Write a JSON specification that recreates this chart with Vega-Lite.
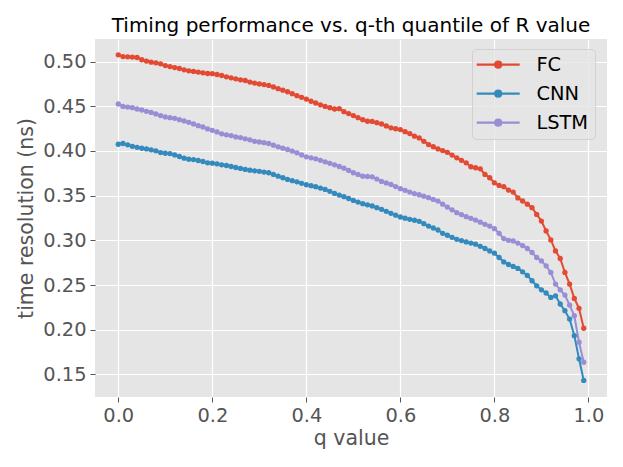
{
  "$schema": "https://vega.github.io/schema/vega-lite/v6.json",
  "width": 512,
  "height": 358,
  "autosize": {"type": "none"},
  "padding": {"left": 95, "top": 39, "right": 16, "bottom": 70},
  "background": "white",
  "title": {"text": "Timing performance vs. q-th quantile of R value", "font": "DejaVu Sans", "fontSize": 20, "fontWeight": "normal", "color": "black", "anchor": "middle", "baseline": "bottom", "offset": 4, "dy": 21},
  "config": {
    "view": {"fill": "#E5E5E5", "stroke": null},
    "axis": {"domain": false, "grid": true, "gridColor": "white", "gridWidth": 1.2, "tickColor": "#555555", "tickSize": 5, "tickWidth": 1, "labelColor": "#555555", "labelFont": "DejaVu Sans", "labelFontSize": 19.4, "titleColor": "#555555", "titleFont": "DejaVu Sans", "titleFontSize": 20.5, "titleFontWeight": "normal"}
  },
  "data": {"values": [
    {"q":0.00,"FC":0.5075,"CNN":0.4075,"LSTM":0.4525},
    {"q":0.01,"FC":0.5056,"CNN":0.4083,"LSTM":0.4498},
    {"q":0.02,"FC":0.5053,"CNN":0.4068,"LSTM":0.4491},
    {"q":0.03,"FC":0.5050,"CNN":0.4052,"LSTM":0.4484},
    {"q":0.04,"FC":0.5045,"CNN":0.4041,"LSTM":0.4469},
    {"q":0.05,"FC":0.5020,"CNN":0.4030,"LSTM":0.4458},
    {"q":0.06,"FC":0.5005,"CNN":0.4023,"LSTM":0.4443},
    {"q":0.07,"FC":0.4993,"CNN":0.4012,"LSTM":0.4431},
    {"q":0.08,"FC":0.4985,"CNN":0.4001,"LSTM":0.4414},
    {"q":0.09,"FC":0.4974,"CNN":0.3982,"LSTM":0.4395},
    {"q":0.10,"FC":0.4955,"CNN":0.3974,"LSTM":0.4380},
    {"q":0.11,"FC":0.4944,"CNN":0.3971,"LSTM":0.4372},
    {"q":0.12,"FC":0.4933,"CNN":0.3956,"LSTM":0.4365},
    {"q":0.13,"FC":0.4922,"CNN":0.3938,"LSTM":0.4350},
    {"q":0.14,"FC":0.4907,"CNN":0.3919,"LSTM":0.4336},
    {"q":0.15,"FC":0.4896,"CNN":0.3907,"LSTM":0.4320},
    {"q":0.16,"FC":0.4889,"CNN":0.3904,"LSTM":0.4302},
    {"q":0.17,"FC":0.4882,"CNN":0.3893,"LSTM":0.4283},
    {"q":0.18,"FC":0.4874,"CNN":0.3882,"LSTM":0.4269},
    {"q":0.19,"FC":0.4866,"CNN":0.3867,"LSTM":0.4246},
    {"q":0.20,"FC":0.4864,"CNN":0.3863,"LSTM":0.4231},
    {"q":0.21,"FC":0.4855,"CNN":0.3856,"LSTM":0.4213},
    {"q":0.22,"FC":0.4844,"CNN":0.3845,"LSTM":0.4191},
    {"q":0.23,"FC":0.4829,"CNN":0.3837,"LSTM":0.4180},
    {"q":0.24,"FC":0.4818,"CNN":0.3826,"LSTM":0.4172},
    {"q":0.25,"FC":0.4807,"CNN":0.3815,"LSTM":0.4157},
    {"q":0.26,"FC":0.4796,"CNN":0.3804,"LSTM":0.4149},
    {"q":0.27,"FC":0.4788,"CNN":0.3793,"LSTM":0.4135},
    {"q":0.28,"FC":0.4770,"CNN":0.3785,"LSTM":0.4124},
    {"q":0.29,"FC":0.4759,"CNN":0.3778,"LSTM":0.4108},
    {"q":0.30,"FC":0.4750,"CNN":0.3772,"LSTM":0.4100},
    {"q":0.31,"FC":0.4742,"CNN":0.3764,"LSTM":0.4092},
    {"q":0.32,"FC":0.4733,"CNN":0.3756,"LSTM":0.4083},
    {"q":0.33,"FC":0.4716,"CNN":0.3737,"LSTM":0.4065},
    {"q":0.34,"FC":0.4696,"CNN":0.3718,"LSTM":0.4046},
    {"q":0.35,"FC":0.4680,"CNN":0.3700,"LSTM":0.4031},
    {"q":0.36,"FC":0.4662,"CNN":0.3681,"LSTM":0.4016},
    {"q":0.37,"FC":0.4640,"CNN":0.3668,"LSTM":0.3998},
    {"q":0.38,"FC":0.4618,"CNN":0.3655,"LSTM":0.3979},
    {"q":0.39,"FC":0.4600,"CNN":0.3638,"LSTM":0.3956},
    {"q":0.40,"FC":0.4580,"CNN":0.3622,"LSTM":0.3934},
    {"q":0.41,"FC":0.4556,"CNN":0.3611,"LSTM":0.3923},
    {"q":0.42,"FC":0.4536,"CNN":0.3600,"LSTM":0.3912},
    {"q":0.43,"FC":0.4516,"CNN":0.3585,"LSTM":0.3895},
    {"q":0.44,"FC":0.4498,"CNN":0.3570,"LSTM":0.3878},
    {"q":0.45,"FC":0.4484,"CNN":0.3548,"LSTM":0.3862},
    {"q":0.46,"FC":0.4469,"CNN":0.3525,"LSTM":0.3845},
    {"q":0.47,"FC":0.4473,"CNN":0.3507,"LSTM":0.3826},
    {"q":0.48,"FC":0.4439,"CNN":0.3488,"LSTM":0.3807},
    {"q":0.49,"FC":0.4418,"CNN":0.3468,"LSTM":0.3782},
    {"q":0.50,"FC":0.4395,"CNN":0.3447,"LSTM":0.3756},
    {"q":0.51,"FC":0.4372,"CNN":0.3428,"LSTM":0.3737},
    {"q":0.52,"FC":0.4350,"CNN":0.3410,"LSTM":0.3718},
    {"q":0.53,"FC":0.4332,"CNN":0.3397,"LSTM":0.3714},
    {"q":0.54,"FC":0.4330,"CNN":0.3384,"LSTM":0.3711},
    {"q":0.55,"FC":0.4316,"CNN":0.3366,"LSTM":0.3685},
    {"q":0.56,"FC":0.4302,"CNN":0.3347,"LSTM":0.3659},
    {"q":0.57,"FC":0.4280,"CNN":0.3325,"LSTM":0.3642},
    {"q":0.58,"FC":0.4258,"CNN":0.3302,"LSTM":0.3625},
    {"q":0.59,"FC":0.4248,"CNN":0.3282,"LSTM":0.3602},
    {"q":0.60,"FC":0.4239,"CNN":0.3261,"LSTM":0.3578},
    {"q":0.61,"FC":0.4216,"CNN":0.3248,"LSTM":0.3559},
    {"q":0.62,"FC":0.4194,"CNN":0.3235,"LSTM":0.3540},
    {"q":0.63,"FC":0.4165,"CNN":0.3225,"LSTM":0.3522},
    {"q":0.64,"FC":0.4146,"CNN":0.3213,"LSTM":0.3510},
    {"q":0.65,"FC":0.4108,"CNN":0.3187,"LSTM":0.3494},
    {"q":0.66,"FC":0.4071,"CNN":0.3160,"LSTM":0.3477},
    {"q":0.67,"FC":0.4047,"CNN":0.3138,"LSTM":0.3458},
    {"q":0.68,"FC":0.4023,"CNN":0.3116,"LSTM":0.3439},
    {"q":0.69,"FC":0.4004,"CNN":0.3079,"LSTM":0.3405},
    {"q":0.70,"FC":0.3985,"CNN":0.3057,"LSTM":0.3372},
    {"q":0.71,"FC":0.3954,"CNN":0.3034,"LSTM":0.3341},
    {"q":0.72,"FC":0.3923,"CNN":0.3012,"LSTM":0.3310},
    {"q":0.73,"FC":0.3895,"CNN":0.2997,"LSTM":0.3288},
    {"q":0.74,"FC":0.3867,"CNN":0.2982,"LSTM":0.3265},
    {"q":0.75,"FC":0.3823,"CNN":0.2970,"LSTM":0.3246},
    {"q":0.76,"FC":0.3812,"CNN":0.2957,"LSTM":0.3227},
    {"q":0.77,"FC":0.3800,"CNN":0.2933,"LSTM":0.3203},
    {"q":0.78,"FC":0.3737,"CNN":0.2909,"LSTM":0.3179},
    {"q":0.79,"FC":0.3700,"CNN":0.2882,"LSTM":0.3160},
    {"q":0.80,"FC":0.3644,"CNN":0.2856,"LSTM":0.3131},
    {"q":0.81,"FC":0.3614,"CNN":0.2808,"LSTM":0.3079},
    {"q":0.82,"FC":0.3600,"CNN":0.2759,"LSTM":0.3020},
    {"q":0.83,"FC":0.3562,"CNN":0.2730,"LSTM":0.3000},
    {"q":0.84,"FC":0.3540,"CNN":0.2708,"LSTM":0.2993},
    {"q":0.85,"FC":0.3475,"CNN":0.2686,"LSTM":0.2970},
    {"q":0.86,"FC":0.3440,"CNN":0.2648,"LSTM":0.2942},
    {"q":0.87,"FC":0.3405,"CNN":0.2608,"LSTM":0.2909},
    {"q":0.88,"FC":0.3365,"CNN":0.2548,"LSTM":0.2864},
    {"q":0.89,"FC":0.3290,"CNN":0.2492,"LSTM":0.2808},
    {"q":0.90,"FC":0.3216,"CNN":0.2447,"LSTM":0.2770},
    {"q":0.91,"FC":0.3105,"CNN":0.2411,"LSTM":0.2715},
    {"q":0.92,"FC":0.3005,"CNN":0.2362,"LSTM":0.2641},
    {"q":0.93,"FC":0.2882,"CNN":0.2380,"LSTM":0.2511},
    {"q":0.94,"FC":0.2797,"CNN":0.2288,"LSTM":0.2447},
    {"q":0.95,"FC":0.2641,"CNN":0.2213,"LSTM":0.2388},
    {"q":0.96,"FC":0.2511,"CNN":0.2120,"LSTM":0.2276},
    {"q":0.97,"FC":0.2351,"CNN":0.1934,"LSTM":0.2157},
    {"q":0.98,"FC":0.2240,"CNN":0.1675,"LSTM":0.1861},
    {"q":0.99,"FC":0.2017,"CNN":0.1433,"LSTM":0.1638}
  ]},
  "transform": [{"fold": ["FC", "CNN", "LSTM"], "as": ["model", "value"]}],
  "mark": {"type": "line", "strokeWidth": 2, "point": {"filled": true, "size": 28, "opacity": 1}},
  "encoding": {
    "x": {"field": "q", "type": "quantitative", "scale": {"domain": [-0.0495, 1.0395], "nice": false, "zero": false},
      "axis": {"title": "q value", "values": [0, 0.2, 0.4, 0.6, 0.8, 1.0], "format": ".1f", "labelPadding": 4, "titlePadding": 4}},
    "y": {"field": "value", "type": "quantitative", "scale": {"domain": [0.1248, 0.5252], "nice": false, "zero": false},
      "axis": {"title": "time resolution (ns)", "values": [0.15, 0.2, 0.25, 0.3, 0.35, 0.4, 0.45, 0.5], "format": ".2f", "labelPadding": 4, "titlePadding": 6}},
    "color": {"field": "model", "type": "nominal", "sort": ["FC", "CNN", "LSTM"],
      "scale": {"domain": ["FC", "CNN", "LSTM"], "range": ["#E24A33", "#348ABD", "#988ED5"]},
      "legend": {"title": null, "orient": "none", "legendX": 377, "legendY": 10, "direction": "vertical",
        "fillColor": "rgba(229,229,229,0.8)", "strokeColor": "rgba(204,204,204,0.8)", "cornerRadius": 4, "padding": 6,
        "symbolType": "M-2.2,0L6.4,0M2.7,0A0.6,0.6,0,1,1,1.5,0A0.6,0.6,0,1,1,2.7,0", "symbolSize": 100, "symbolStrokeWidth": 2.2,
        "labelFont": "DejaVu Sans", "labelFontSize": 19.4, "labelColor": "black", "labelOffset": 39, "rowPadding": 8,
        "encode": {"symbols": {"update": {"fill": {"scale": "color", "field": "value"}, "stroke": {"scale": "color", "field": "value"}, "opacity": {"value": 1}}}}}}
  }
}
